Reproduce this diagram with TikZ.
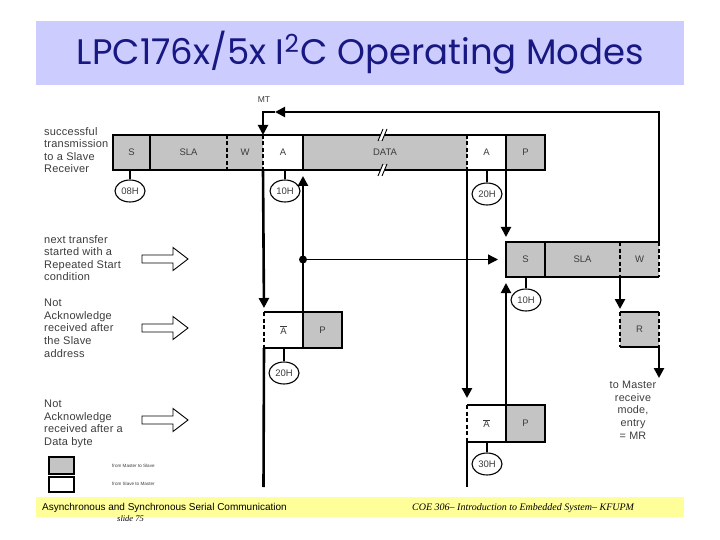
\documentclass[tikz,border=0pt]{standalone}
\usepackage{fontspec}
\setmainfont{Liberation Sans}
\newfontfamily\titlefont{Poppins}
\newfontfamily\serifit{Liberation Serif}
\newfontfamily\lblfont[LetterSpace=2]{Liberation Sans}
\usetikzlibrary{arrows.meta,shapes.geometric}
\definecolor{boxgray}{RGB}{196,196,196}
\definecolor{titleband}{RGB}{204,204,255}
\definecolor{titlenavy}{RGB}{24,24,130}
\definecolor{footyellow}{RGB}{255,255,153}
\definecolor{txtgray}{RGB}{60,60,60}
\begin{document}
\begin{tikzpicture}[x=1pt,y=-1pt,
  fld/.style={inner sep=0pt, outer sep=0pt, font=\fontsize{9.5}{10}\selectfont, text=txtgray},
  gfld/.style={fld, fill=boxgray},
  wfld/.style={fld, fill=white},
  frame/.style={line width=2.8pt, line join=miter},
  dashdiv/.style={line width=2.8pt, dash pattern=on 4pt off 2.5pt},
  conn/.style={line width=2.6pt},
  midconn/.style={line width=2pt},
  thinconn/.style={line width=1.3pt},
  tip/.style={-{Triangle[length=10pt,width=10pt]}},
  tag/.style={ellipse, draw, line width=1.1pt, minimum width=30pt, minimum height=22pt, inner sep=0pt, font=\fontsize{9.5}{10}\selectfont, text=txtgray},
  stem/.style={line width=1.5pt},
  lbl/.style={align=left, anchor=north west, font=\lblfont\fontsize{11}{12.6}\selectfont, text=txtgray, inner sep=0pt},
  hollow/.style={line width=0.9pt, fill=white}
]
\useasboundingbox (0,0) rectangle (720,540);
% title
\fill[titleband] (36,21) rectangle (684,85);
\node[text=titlenavy, inner sep=0pt] (title) at (360.5,53) {\resizebox{567pt}{!}{\titlefont LPC176x/5x I\textsuperscript{2}C Operating Modes}};
% footer
\fill[footyellow] (36,497) rectangle (684,517);
\node[anchor=west, inner sep=0pt, font=\fontsize{10}{11}\selectfont] (foot1) at (42,507.5) {Asynchronous and Synchronous Serial Communication};
\node[anchor=west, inner sep=0pt, font=\serifit\itshape\fontsize{8.5}{9}\selectfont] (foot2) at (117,519) {slide 75};
\node[anchor=west, inner sep=0pt, font=\serifit\itshape\fontsize{10}{11}\selectfont] (foot3) at (412,508) {COE 306– Introduction to Embedded System– KFUPM};

% row 1
\node[gfld, minimum width=37, minimum height=35] (S) at (131.5,152.5) {S};
\node[gfld, minimum width=77, minimum height=35] (SLA) at (188.5,152.5) {SLA};
\node[gfld, minimum width=36, minimum height=35] (W) at (245,152.5) {W};
\node[wfld, minimum width=40, minimum height=35] (A1) at (283,152.5) {A};
\node[gfld, minimum width=164, minimum height=35] (DATA) at (385,152.5) {DATA};
\node[wfld, minimum width=39, minimum height=35] (A2) at (486.5,152.5) {A};
\node[gfld, minimum width=39, minimum height=35] (P1) at (525.5,152.5) {P};
\draw[frame] (S.south west) rectangle (P1.north east);
\draw[frame] (S.north east) -- (S.south east);
\draw[dashdiv] (SLA.north east) -- (SLA.south east);
\draw[dashdiv] (W.north east) -- (W.south east);
\draw[frame] (A1.north east) -- (A1.south east);
\draw[dashdiv] (DATA.north east) -- (DATA.south east);
\draw[frame] (A2.north east) -- (A2.south east);
% break marks
\foreach \yy in {135,170} {
  \fill[white] (378.5,\yy+5) -- (382.5,\yy+5) -- (386.5,\yy-5) -- (382.5,\yy-5) -- cycle;
  \draw[line width=0.9pt] (378,\yy+6) -- (383,\yy-6);
  \draw[line width=0.9pt] (382,\yy+6) -- (387,\yy-6);
}

% row 2
\node[gfld, minimum width=39, minimum height=35] (S2) at (525.5,259.5) {S};
\node[gfld, minimum width=75, minimum height=35] (SLA2) at (582.5,259.5) {SLA};
\node[gfld, minimum width=39, minimum height=35] (W2) at (639.5,259.5) {W};
\draw[frame] (W2.north east) -- (S2.north west) -- (S2.south west) -- (W2.south east);
\draw[dashdiv] (W2.north east) -- (W2.south east);
\draw[frame] (S2.north east) -- (S2.south east);
\draw[dashdiv] (SLA2.north east) -- (SLA2.south east);
% R box
\node[gfld, minimum width=39, minimum height=35] (R) at (639.5,329.5) {R};
\draw[frame] (R.north west) -- (R.north east);
\draw[frame] (R.south west) -- (R.south east);
\draw[dashdiv] (R.north west) -- (R.south west);
\draw[dashdiv] (R.north east) -- (R.south east);

% row 3
\node[wfld, minimum width=39, minimum height=36] (Ab1) at (283.5,330) {\(\overline{\mbox{A}}\)};
\node[gfld, minimum width=39, minimum height=36] (P2) at (322.5,330) {P};
\draw[frame] (Ab1.north west) -- (P2.north east) -- (P2.south east) -- (Ab1.south west);
\draw[dashdiv] (Ab1.north west) -- (Ab1.south west);
\draw[frame] (Ab1.north east) -- (Ab1.south east);

% row 4
\node[wfld, minimum width=39, minimum height=37] (Ab2) at (486.5,423.5) {\(\overline{\mbox{A}}\)};
\node[gfld, minimum width=39, minimum height=37] (P3) at (525.5,423.5) {P};
\draw[frame] (Ab2.north west) -- (P3.north east) -- (P3.south east) -- (Ab2.south west);
\draw[dashdiv] (Ab2.north west) -- (Ab2.south west);
\draw[frame] (Ab2.north east) -- (Ab2.south east);

% status tags
\node[tag] (t08) at (130,191) {08H};
\node[tag] (t10a) at (285,191) {10H};
\node[tag] (t20a) at (487,194) {20H};
\node[tag] (t10b) at (526,300) {10H};
\node[tag] (t20b) at (284,373) {20H};
\node[tag] (t30) at (487,464) {30H};
\draw[stem] (t08.north) -- (t08.north |- S.south);
\draw[stem] (t10a.north) -- (t10a.north |- A1.south);
\draw[stem] (t20a.north) -- (t20a.north |- A2.south);
\draw[stem] (t10b.north) -- (t10b.north |- S2.south);
\draw[stem] (t20b.north) -- (t20b.north |- Ab1.south);
\draw[stem] (t30.north) -- (t30.north |- Ab2.south);

% MT feedback
\node[inner sep=0pt, font=\fontsize{8.5}{9}\selectfont, text=txtgray] (MT) at (264,100) {MT};
\coordinate (mtturn) at (659,112);
\coordinate (mttip) at (275,112);
\draw[midconn, tip] (W2.north east) -- (mtturn) -- (mttip);
\draw[midconn, tip] (mttip) -| (A1.north west);

% connectors
\draw[conn, tip, shorten >=4pt] (A1.south west) -- (Ab1.north west);
\draw[conn, tip, shorten >=6pt] (P2.north west) -- (A1.south east);
\coordinate (dot) at (303,259.5);
\fill (dot) circle (4);
\draw[thinconn, tip, shorten >=8pt] (dot) -- (S2.west);
\draw[conn, tip, shorten >=7pt] (A2.south west) -- (Ab2.north west);
\draw[midconn, tip, shorten >=5pt] (A2.south east) -- (S2.north west);
\draw[midconn, tip, shorten >=6pt] (P3.north west) -- (S2.south west);
\draw[conn, tip, shorten >=3pt] (SLA2.south east) -- (R.north west);
\coordinate (mrend) at (659,378);
\draw[conn, tip] (R.south east) -- (mrend);
\coordinate (end1) at (263.5,487);
\coordinate (end2) at (467,487);
\draw[conn] (Ab1.south west) -- (end1);
\draw[conn] (Ab2.south west) -- (end2);

% left labels
\node[lbl] (l1) at (44,127) {successful\\transmission\\to a Slave\\Receiver};
\node[lbl] (l2) at (44,235) {next transfer\\started with a\\Repeated Start\\condition};
\node[lbl] (l3) at (44,299) {Not\\Acknowledge\\received after\\the Slave\\address};
\node[lbl] (l4) at (44,400) {Not\\Acknowledge\\received after a\\Data byte};
\node[align=center, anchor=north, inner sep=0pt, font=\lblfont\fontsize{10.8}{12.6}\selectfont, text=txtgray] (mr) at (633,381) {to Master\\receive\\mode,\\entry\\= MR};

% hollow arrows
\foreach \yy in {259,328,420} {
  \draw[hollow] (142,\yy-4) -- (173,\yy-4) -- (173,\yy-11.5) -- (188,\yy) -- (173,\yy+11.5) -- (173,\yy+4) -- (142,\yy+4) -- cycle;
}

% legend
\draw[line width=1.3pt, fill=boxgray] (49,457) rectangle (74,474);
\draw[line width=1.3pt, fill=white] (49,477) rectangle (74,492);
\node[anchor=west, inner sep=0pt, font=\fontsize{4.6}{5}\selectfont, text=txtgray] (lg1) at (112,466) {from Master to Slave};
\node[anchor=west, inner sep=0pt, font=\fontsize{4.6}{5}\selectfont, text=txtgray] (lg2) at (112,484) {from Slave to Master};
\end{tikzpicture}
\end{document}
